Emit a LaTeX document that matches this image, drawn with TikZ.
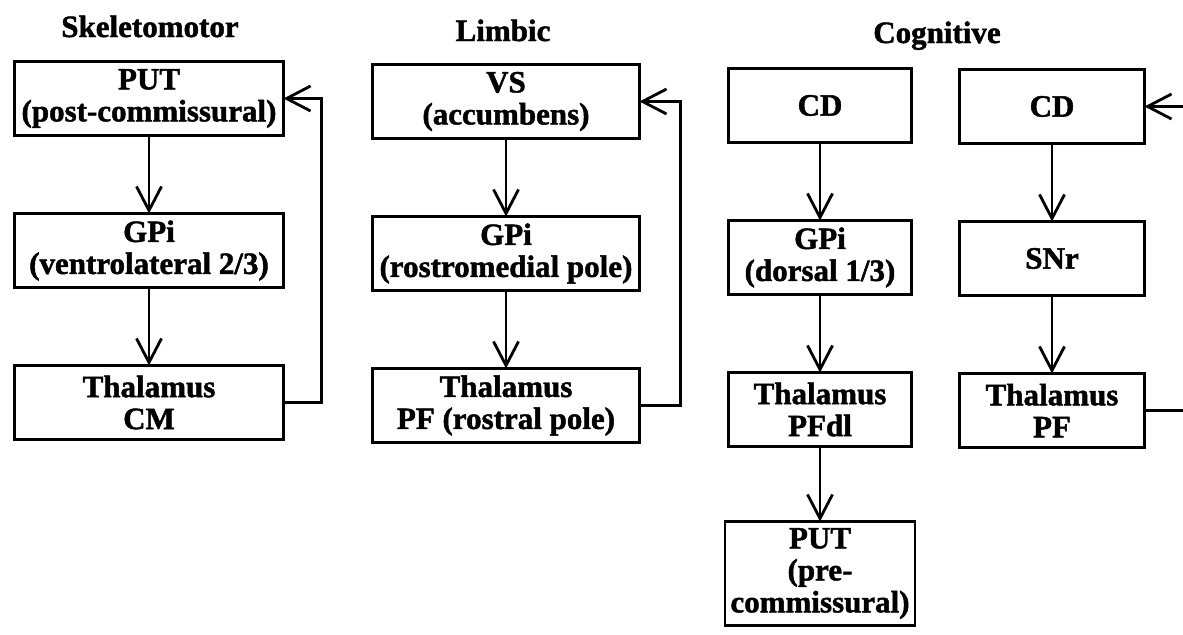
\documentclass[tikz,border=0pt]{standalone}
\usepackage{fontspec}
\setmainfont{Liberation Serif}[BoldFeatures={FakeBold=1.5}]
\usetikzlibrary{arrows.meta,positioning}
\tikzset{
  regionbox/.style={
    rectangle, draw=black, line width=1.4pt, outer sep=0pt,
    minimum width=#1, minimum height=37pt,
    font=\fontsize{15.5}{16}\selectfont\bfseries, align=center,
    inner sep=1pt
  },
  regionbox/.default=134.5pt,
  flowarrow/.style={
    -{Straight Barb[length=12pt,width=12.5pt]}, line width=1.4pt
  },
  titlelabel/.style={
    font=\fontsize{15.5}{16}\selectfont\bfseries, anchor=base
  },
}

\begin{document}
\begin{tikzpicture}[x=0.5pt,y=-0.5pt,node distance=39pt]
  \useasboundingbox (0,0) rectangle (1183,634);

  % Skeletomotor loop
  \node[titlelabel] (tsm) at (150,37) {Skeletomotor};
  \node[regionbox=134.5pt] (putsm) at (149,98.5) {PUT\\(post-commissural)};
  \node[regionbox=134.5pt, below=of putsm] (gpism) {GPi\\(ventrolateral 2/3)};
  \node[regionbox=134.5pt, below=of gpism] (thalsm) {Thalamus\\CM};
  \draw[flowarrow] (putsm) -- (gpism);
  \draw[flowarrow] (gpism) -- (thalsm);
  \draw[flowarrow] (thalsm.east) -- ++(38,0) |- (putsm.east);

  % Limbic loop
  \node[titlelabel] (tlb) at (503,41) {Limbic};
  \node[regionbox=133.5pt] (vs) at (506,101.5) {VS\\(accumbens)};
  \node[regionbox=133.5pt, below=of vs] (gpilb) {GPi\\(rostromedial pole)};
  \node[regionbox=133.5pt, below=of gpilb] (thallb) {Thalamus\\PF (rostral pole)};
  \draw[flowarrow] (vs) -- (gpilb);
  \draw[flowarrow] (gpilb) -- (thallb);
  \draw[flowarrow] (thallb.east) -- ++(41,0) |- (vs.east);

  % Cognitive loops
  \node[titlelabel] (tcg) at (937,43) {Cognitive};
  \node[regionbox=91.5pt] (cd) at (820,105.5) {CD};
  \node[regionbox=91.5pt, below=of cd] (gpicg) {GPi\\(dorsal 1/3)};
  \node[regionbox=91.5pt, below=of gpicg] (thalcg) {Thalamus\\PFdl};
  \node[regionbox=95pt, minimum height=52pt, below=37.5pt of thalcg]
    (putpre) {PUT\\(pre-\\commissural)};
  \draw[flowarrow] (cd) -- (gpicg);
  \draw[flowarrow] (gpicg) -- (thalcg);
  \draw[flowarrow] (thalcg) -- (putpre);

  \node[regionbox=92.5pt] (cdb) at (1052,106.5) {CD};
  \node[regionbox=92.5pt, below=of cdb] (snr) {SNr};
  \node[regionbox=92.5pt, below=of snr] (thalpf) {Thalamus\\PF};
  \draw[flowarrow] (cdb) -- (snr);
  \draw[flowarrow] (snr) -- (thalpf);
  \draw[flowarrow] (thalpf.east) -- ++(60,0) |- (cdb.east);
\end{tikzpicture}
\end{document}
